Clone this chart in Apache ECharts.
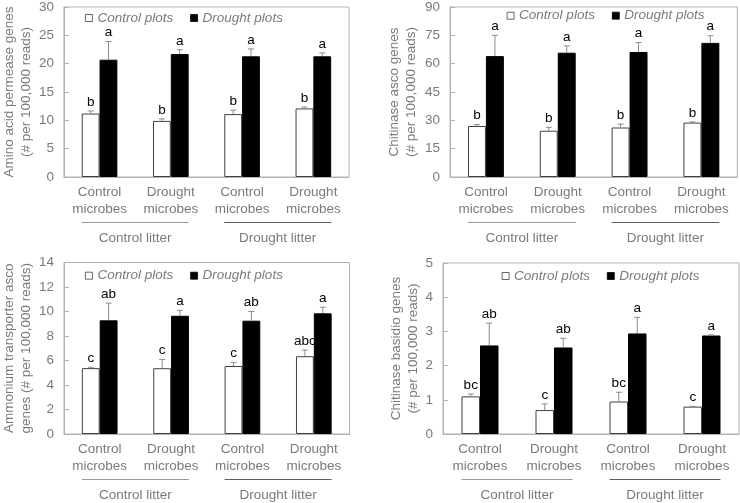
<!DOCTYPE html>
<html>
<head>
<meta charset="utf-8">
<script src="https://cdn.jsdelivr.net/npm/echarts@6/dist/echarts.min.js"></script>
<style>
html,body{margin:0;padding:0;background:#fff;}
#c{width:740px;height:503px;}
</style>
</head>
<body>
<div id="c"></div>
<script>
// ---- data ----
const categories = ['Control\nmicrobes', 'Drought\nmicrobes', 'Control\nmicrobes', 'Drought\nmicrobes'];
const groupLabels = ['Control litter', 'Drought litter'];
const groupSpans = [[0, 1], [2, 3]];
const seriesNames = ['Control plots', 'Drought plots'];

// Panel 1: Amino acid permease genes
const p1Title = ['Amino acid permease genes', '(# per 100,000 reads)'];
const p1Ctrl = [11.2, 9.9, 11.1, 12.1];
const p1CtrlErr = [0.45, 0.35, 0.7, 0.25];
const p1CtrlLetters = ['b', 'b', 'b', 'b'];
const p1Drought = [20.7, 21.7, 21.3, 21.3];
const p1DroughtErr = [3.2, 0.75, 1.3, 0.6];
const p1DroughtLetters = ['a', 'a', 'a', 'a'];
const p1Axis = {min: 0, max: 30, interval: 5};

// Panel 2: Chitinase asco genes
const p2Title = ['Chitinase asco genes', '(# per 100,000 reads)'];
const p2Ctrl = [27.0, 24.5, 26.2, 28.8];
const p2CtrlErr = [0.8, 1.8, 1.8, 0.4];
const p2CtrlLetters = ['b', 'b', 'b', 'b'];
const p2Drought = [64.0, 65.8, 66.2, 71.0];
const p2DroughtErr = [11.0, 3.6, 5.0, 3.8];
const p2DroughtLetters = ['a', 'a', 'a', 'a'];
const p2Axis = {min: 0, max: 90, interval: 15};

// Panel 3: Ammonium transporter asco genes
const p3Title = ['Ammonium transporter asco', 'genes (# per 100,000 reads)'];
const p3Ctrl = [5.38, 5.37, 5.55, 6.35];
const p3CtrlErr = [0.07, 0.72, 0.3, 0.5];
const p3CtrlLetters = ['c', 'c', 'c', 'abc'];
const p3Drought = [9.28, 9.65, 9.25, 9.85];
const p3DroughtErr = [1.4, 0.45, 0.75, 0.5];
const p3DroughtLetters = ['ab', 'a', 'ab', 'a'];
const p3Axis = {min: 0, max: 14, interval: 2};

// Panel 4: Chitinase basidio genes
const p4Title = ['Chitinase basidio genes', '(# per 100,000 reads)'];
const p4Ctrl = [1.1, 0.7, 0.95, 0.8];
const p4CtrlErr = [0.07, 0.18, 0.27, 0.01];
const p4CtrlLetters = ['bc', 'c', 'bc', 'c'];
const p4Drought = [2.59, 2.53, 2.94, 2.88];
const p4DroughtErr = [0.65, 0.27, 0.47, 0.02];
const p4DroughtLetters = ['ab', 'ab', 'a', 'a'];
const p4Axis = {min: 0, max: 5, interval: 1};

// ---- layout / style ----
const FONT = 'Liberation Sans, Arial, sans-serif';
const GRAY = '#7a7a7a';
const FRAME = '#b3b3b3';
const ERR = '#8c8c8c';
const FS = 13.5;

const panels = [
  {title: p1Title, ctrl: p1Ctrl, ctrlErr: p1CtrlErr, ctrlL: p1CtrlLetters, dr: p1Drought, drErr: p1DroughtErr, drL: p1DroughtLetters, axis: p1Axis,
   grid: {left: 60.7, top: 5, width: 288.3, height: 172}, nameGap: 28, legend: {left: 85, top: 11}},
  {title: p2Title, ctrl: p2Ctrl, ctrlErr: p2CtrlErr, ctrlL: p2CtrlLetters, dr: p2Drought, drErr: p2DroughtErr, drL: p2DroughtLetters, axis: p2Axis,
   grid: {left: 450, top: 5, width: 287.3, height: 172}, nameGap: 30, legend: {left: 506.7, top: 8.7}},
  {title: p3Title, ctrl: p3Ctrl, ctrlErr: p3CtrlErr, ctrlL: p3CtrlLetters, dr: p3Drought, drErr: p3DroughtErr, drL: p3DroughtLetters, axis: p3Axis,
   grid: {left: 60.5, top: 262.5, width: 289, height: 171.5}, nameGap: 29, legend: {left: 85, top: 268.7}},
  {title: p4Title, ctrl: p4Ctrl, ctrlErr: p4CtrlErr, ctrlL: p4CtrlLetters, dr: p4Drought, drErr: p4DroughtErr, drL: p4DroughtLetters, axis: p4Axis,
   grid: {left: 443, top: 263, width: 296, height: 171}, nameGap: 21, legend: {left: 501.7, top: 269}}
];

function errRenderer(letters, side) {
  return function (params, api) {
    const idx = api.value(0), v = api.value(1), e = api.value(2);
    const band = api.size([1, 0])[0];
    const base = api.coord([idx, v]);
    const top = api.coord([idx, v + e]);
    const cx = base[0] + side * band / 8;
    const ls = {stroke: ERR, lineWidth: 1};
    return {type: 'group', children: [
      {type: 'line', shape: {x1: cx, y1: base[1], x2: cx, y2: top[1]}, style: ls},
      {type: 'line', shape: {x1: cx - 3, y1: top[1], x2: cx + 3, y2: top[1]}, style: ls},
      {type: 'text', x: cx, y: top[1] - 2, style: {text: letters[params.dataIndex], fill: '#000',
        font: FS + 'px ' + FONT, align: 'center', verticalAlign: 'bottom'}}
    ]};
  };
}

function groupRenderer(params, api) {
  const s = api.value(0), e = api.value(2);
  const band = api.size([1, 0])[0];
  const p0 = api.coord([s, 0]);
  const p1 = api.coord([e, 0]);
  const x0 = p0[0] - band / 4, x1 = p1[0] + band / 4;
  const y = p0[1] + 45.5;
  return {type: 'group', children: [
    {type: 'line', shape: {x1: x0, y1: y, x2: x1, y2: y}, style: {stroke: params.dataIndex === 0 ? '#9a9a9a' : '#606060', lineWidth: 1}},
    {type: 'text', x: (x0 + x1) / 2, y: y + 16, style: {text: groupLabels[params.dataIndex], fill: GRAY,
      font: FS + 'px ' + FONT, align: 'center', verticalAlign: 'middle'}}
  ]};
}

const option = {
  animation: false,
  backgroundColor: '#fff',
  textStyle: {fontFamily: FONT},
  grid: [], xAxis: [], yAxis: [], legend: [], series: []
};

panels.forEach((p, i) => {
  option.grid.push(Object.assign({show: true, borderColor: FRAME, borderWidth: 1, backgroundColor: 'transparent'}, p.grid));
  option.xAxis.push({
    type: 'category', gridIndex: i, data: categories,
    axisLine: {show: true, lineStyle: {color: FRAME}},
    axisTick: {show: false},
    axisLabel: {interval: 0, color: GRAY, fontSize: FS, lineHeight: 16.7, margin: 7, fontFamily: FONT}
  });
  option.yAxis.push({
    type: 'value', gridIndex: i, min: p.axis.min, max: p.axis.max, interval: p.axis.interval,
    name: p.title.join('\n'), nameLocation: 'middle', nameGap: p.nameGap,
    nameTextStyle: {color: GRAY, fontSize: FS, lineHeight: 17, fontFamily: FONT},
    axisLine: {show: true, lineStyle: {color: FRAME}},
    axisTick: {show: true, inside: true, length: 5, lineStyle: {color: FRAME}},
    splitLine: {show: false},
    axisLabel: {color: GRAY, fontSize: FS, margin: 10, fontFamily: FONT}
  });
  option.legend.push({
    data: seriesNames, left: p.legend.left, top: p.legend.top, padding: 0,
    itemWidth: 7, itemHeight: 7, itemGap: 17, icon: 'rect', selectedMode: false,
    itemStyle: {borderWidth: 0.8},
    textStyle: {color: GRAY, fontSize: FS, fontStyle: 'italic', fontFamily: FONT}
  });
  option.series.push({
    type: 'bar', name: seriesNames[0], xAxisIndex: i, yAxisIndex: i, data: p.ctrl,
    barGap: '0%', barCategoryGap: '50%',
    itemStyle: {color: '#fff', borderColor: '#404040', borderWidth: 1}
  });
  option.series.push({
    type: 'bar', name: seriesNames[1], xAxisIndex: i, yAxisIndex: i, data: p.dr,
    barGap: '0%', barCategoryGap: '50%',
    itemStyle: {color: '#000', borderColor: '#000', borderWidth: 1}
  });
  option.series.push({
    type: 'custom', xAxisIndex: i, yAxisIndex: i, clip: false, z: 5,
    data: p.ctrl.map((v, k) => [k, v, p.ctrlErr[k]]),
    encode: {x: 0, y: 1}, renderItem: errRenderer(p.ctrlL, -1)
  });
  option.series.push({
    type: 'custom', xAxisIndex: i, yAxisIndex: i, clip: false, z: 5,
    data: p.dr.map((v, k) => [k, v, p.drErr[k]]),
    encode: {x: 0, y: 1}, renderItem: errRenderer(p.drL, 1)
  });
  option.series.push({
    type: 'custom', xAxisIndex: i, yAxisIndex: i, clip: false, silent: true,
    data: groupSpans.map(g => [g[0], 0, g[1]]),
    encode: {x: 0, y: 1}, renderItem: groupRenderer
  });
});

const chart = echarts.init(document.getElementById('c'), null, {renderer: 'canvas'});
chart.setOption(option);
</script>
</body>
</html>
